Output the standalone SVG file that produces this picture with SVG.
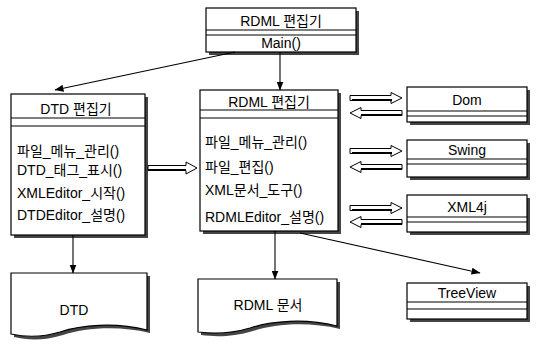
<svg xmlns="http://www.w3.org/2000/svg" width="538" height="344" viewBox="0 0 538 344">
<defs>
<marker id="ah" markerWidth="9" markerHeight="7" refX="8.5" refY="3.5" orient="auto" markerUnits="userSpaceOnUse">
<path d="M0,0 L9,3.5 L0,7 Z" fill="#000"/>
</marker>
</defs>
<style>
text{font-family:"Liberation Sans","Noto Sans CJK KR",sans-serif;font-size:14px;fill:#000}
.c{text-anchor:middle}
.box{fill:#fff;stroke:#000;stroke-width:1.2}
.sh{fill:#444}
.ln{stroke:#000;stroke-width:1.2;fill:none}
.con{stroke:#000;stroke-width:1.1;fill:none}
.ba{fill:#fff;stroke:#000;stroke-width:1}
.bb{stroke:#000;stroke-width:2;fill:none}
</style>
<rect width="538" height="344" fill="#fff"/>

<g id="main-editor">
<rect class="sh" x="209" y="11" width="150" height="44"/>
<rect class="box" x="206" y="8" width="150" height="44"/>
<line class="ln" x1="206" y1="30" x2="356" y2="30"/>
<line class="ln" x1="206" y1="35" x2="356" y2="35"/>
<text class="c" x="281" y="26">RDML 편집기</text>
<text class="c" x="281" y="48">Main()</text>
</g>

<g id="dtd-editor">
<rect class="sh" x="14" y="97" width="134" height="141"/>
<rect class="box" x="11" y="94" width="134" height="141"/>
<line class="ln" x1="11" y1="118" x2="145" y2="118"/>
<line class="ln" x1="11" y1="126" x2="145" y2="126"/>
<text class="c" x="76" y="114">DTD 편집기</text>
<text x="17" y="156">파일_메뉴_관리()</text>
<text x="17" y="175">DTD_태그_표시()</text>
<text x="17" y="198">XMLEditor_시작()</text>
<text x="17" y="220">DTDEditor_설명()</text>
</g>

<g id="rdml-editor">
<rect class="sh" x="203" y="93" width="138" height="141"/>
<rect class="box" x="200" y="90" width="138" height="141"/>
<line class="ln" x1="200" y1="110" x2="338" y2="110"/>
<line class="ln" x1="200" y1="118" x2="338" y2="118"/>
<text class="c" x="269" y="107">RDML 편집기</text>
<text x="205" y="147">파일_메뉴_관리()</text>
<text x="205" y="172">파일_편집()</text>
<text x="205" y="195">XML문서_도구()</text>
<text x="205" y="222">RDMLEditor_설명()</text>
</g>

<g id="dom">
<rect class="sh" x="410" y="90" width="120" height="35"/>
<rect class="box" x="407" y="87" width="120" height="35"/>
<line class="ln" x1="407" y1="111" x2="527" y2="111"/>
<line class="ln" x1="407" y1="116" x2="527" y2="116"/>
<text class="c" x="467" y="105">Dom</text>
</g>

<g id="swing">
<rect class="sh" x="410" y="143" width="120" height="37"/>
<rect class="box" x="407" y="140" width="120" height="37"/>
<line class="ln" x1="407" y1="159" x2="527" y2="159"/>
<line class="ln" x1="407" y1="164" x2="527" y2="164"/>
<text class="c" x="467" y="155">Swing</text>
</g>

<g id="xml4j">
<rect class="sh" x="410" y="198" width="120" height="37"/>
<rect class="box" x="407" y="195" width="120" height="37"/>
<line class="ln" x1="407" y1="217" x2="527" y2="217"/>
<line class="ln" x1="407" y1="222" x2="527" y2="222"/>
<text class="c" x="467" y="212">XML4j</text>
</g>

<g id="treeview">
<rect class="sh" x="410" y="286" width="120" height="36"/>
<rect class="box" x="407" y="283" width="120" height="36"/>
<line class="ln" x1="407" y1="302" x2="527" y2="302"/>
<line class="ln" x1="407" y1="309" x2="527" y2="309"/>
<text class="c" x="467" y="298">TreeView</text>
</g>

<g id="dtd-doc">
<path class="sh" d="M14,276 H150 V333 C118,325 84,328 63,335 C43,341 28,340 14,337 Z"/>
<path class="box" d="M11,273 H147 V330 C115,322 81,325 60,332 C40,338 25,337 11,334 Z"/>
<text class="c" x="74" y="315">DTD</text>
</g>

<g id="rdml-doc">
<path class="sh" d="M201,282 H340 V329 C308,321 274,324 253,331 C233,337 216,337 201,335 Z"/>
<path class="box" d="M198,279 H337 V326 C305,318 271,321 250,328 C230,334 213,334 198,332 Z"/>
<text class="c" x="268" y="310">RDML 문서</text>
</g>

<g id="connectors">
<line class="con" x1="235" y1="52" x2="55" y2="90" marker-end="url(#ah)"/>
<line class="con" x1="280" y1="52" x2="280" y2="90" marker-end="url(#ah)"/>
<line class="con" x1="73" y1="235" x2="73" y2="273" marker-end="url(#ah)"/>
<line class="con" x1="275" y1="231" x2="275" y2="279" marker-end="url(#ah)"/>
<line class="con" x1="300" y1="233" x2="480" y2="273" marker-end="url(#ah)"/>
<!-- DTD -> RDML block arrow -->
<path class="ba" d="M148,165.5 H186 V162 L197,168 L186,174 V170.5 H148 Z"/>
<line class="bb" x1="148" y1="170" x2="186" y2="170"/>
<!-- Dom pair -->
<path class="ba" d="M350,95.5 H391 V92.5 L402,98 L391,103.5 V100.5 H350 Z"/>
<line class="bb" x1="352" y1="100" x2="392" y2="100"/>
<path class="ba" d="M402,110.5 H361 V107.5 L350,113 L361,118.5 V115.5 H402 Z"/>
<line class="bb" x1="361" y1="115" x2="402" y2="115"/>
<!-- Swing pair -->
<path class="ba" d="M350,148.5 H391 V145.5 L402,151 L391,156.5 V153.5 H350 Z"/>
<line class="bb" x1="352" y1="153" x2="392" y2="153"/>
<path class="ba" d="M402,164.5 H361 V161.5 L350,167 L361,172.5 V169.5 H402 Z"/>
<line class="bb" x1="361" y1="169" x2="402" y2="169"/>
<!-- XML4j pair -->
<path class="ba" d="M350,205.5 H391 V202.5 L402,208 L391,213.5 V210.5 H350 Z"/>
<line class="bb" x1="352" y1="210" x2="392" y2="210"/>
<path class="ba" d="M402,219.5 H361 V216.5 L350,222 L361,227.5 V224.5 H402 Z"/>
<line class="bb" x1="361" y1="224" x2="402" y2="224"/>
</g>
</svg>
